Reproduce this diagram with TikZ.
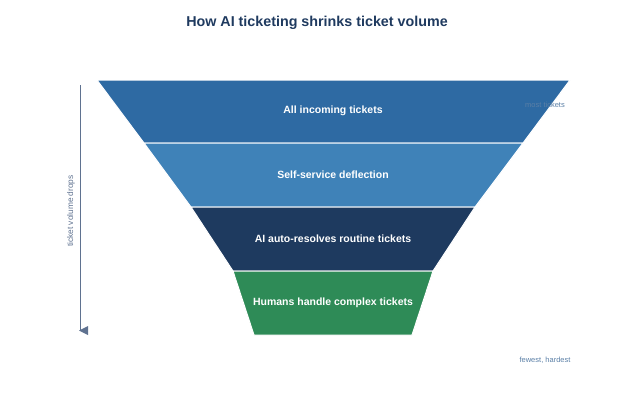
\documentclass[tikz,border=0pt]{standalone}
\usepackage{fontspec}
\setmainfont{Liberation Sans}
\definecolor{navy}{HTML}{1F3A5F}
\definecolor{layerA}{HTML}{2E6AA3}
\definecolor{layerB}{HTML}{3F82B8}
\definecolor{layerC}{HTML}{1E3A5F}
\definecolor{layerD}{HTML}{2E8B57}
\definecolor{axisgray}{HTML}{5F7290}
\definecolor{notegray}{HTML}{5A7FA6}
\tikzset{band/.style = {draw=white, line width=1pt},
         lbl/.style  = {text=white, font=\bfseries\fontsize{10.5}{13}\selectfont},
         note/.style = {text=notegray, font=\fontsize{7.5}{9}\selectfont}}
\begin{document}
\begin{tikzpicture}[x=1pt, y=-1pt]
    \useasboundingbox (0,0) rectangle (635,400);
    \node[text=navy, font=\bfseries\fontsize{14.3}{17}\selectfont] (title) at (317,23) {How AI ticketing shrinks ticket volume};
    % funnel bands
    \filldraw[fill=layerA, band] (97,80) -- (570,80) -- (523,143) -- (144,143) -- cycle;
    \filldraw[fill=layerB, band] (144,143) -- (523,143) -- (475,207) -- (191,207) -- cycle;
    \filldraw[fill=layerC, band] (191,207) -- (475,207) -- (433,271) -- (233,271) -- cycle;
    \filldraw[fill=layerD, band] (233,271) -- (433,271) -- (412,335) -- (254,335) -- cycle;
    \node[lbl] (all) at (333,111) {All incoming tickets};
    \node[lbl] (self) at (333,175) {Self-service deflection};
    \node[lbl] (auto) at (333,239) {AI auto-resolves routine tickets};
    \node[lbl] (human) at (333,303) {Humans handle complex tickets};
    \node[note] (most) at (545,105) {most tickets};
    \node[note] (few) at (545,360) {fewest, hardest};
    % volume axis
    \coordinate (top) at (80,85);
    \coordinate (bot) at (80,330);
    \draw[axisgray, line width=1pt] (top) -- (bot);
    \fill[axisgray] (bot) ++(8,-4) -- ++(0,9) -- ++(-9,-4.5) -- cycle;
    \node[text=axisgray, rotate=90, font=\fontsize{8.3}{10}\selectfont] (drops) at (71,211) {ticket volume drops};
\end{tikzpicture}
\end{document}
